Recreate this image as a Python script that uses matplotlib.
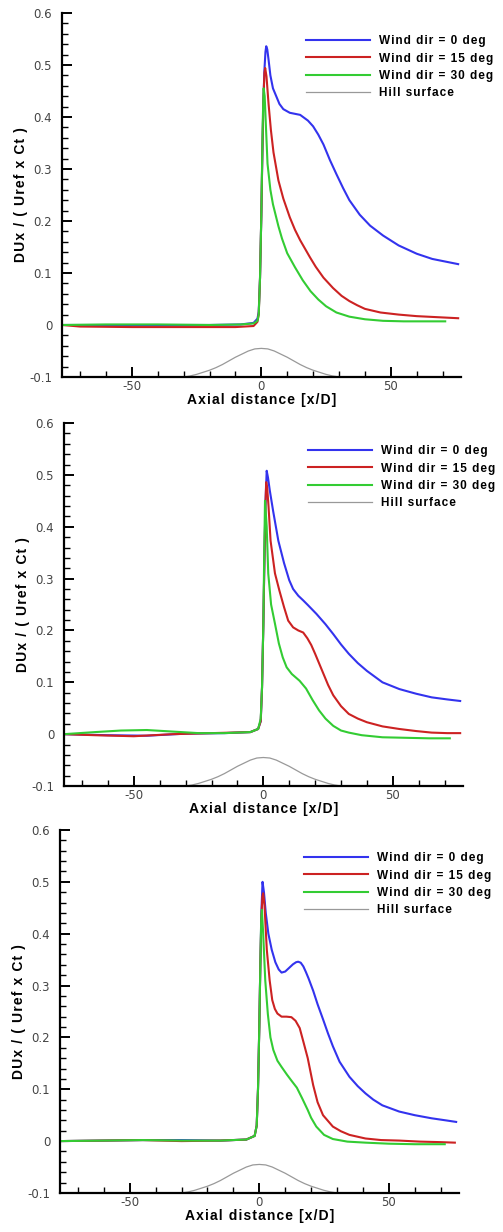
import matplotlib
matplotlib.use("Agg")
import matplotlib.pyplot as plt
from matplotlib.ticker import MultipleLocator

# Hill profile (same in all three panels)
hill_x = [-30, -27.5, -25, -22.5, -20, -17.5, -15, -12.5, -10, -7.5, -5, -2.5, 0,
          2.5, 5, 7.5, 10, 12.5, 15, 17.5, 20, 22.5, 25, 27.5, 30]
hill_y = [-0.100, -0.098, -0.095, -0.091, -0.087, -0.082, -0.076, -0.069, -0.062, -0.056,
          -0.050, -0.046, -0.045, -0.046, -0.050, -0.056, -0.062, -0.069, -0.076, -0.082,
          -0.087, -0.091, -0.095, -0.098, -0.100]

# Panel 1
blue1_x = [-77, -60, -40, -20, -8, -3, -1.5, -1, -0.5, 0, 0.4, 0.8, 1.2, 1.6, 1.9, 2.3, 2.8, 3.5,
           4.5, 6, 7, 8.5, 11, 15, 18, 20, 22, 24, 26.5, 29, 31.6, 34, 38, 42, 47, 53, 60, 66,
           72, 76]
blue1_y = [0.0, 0.0, 0.0, 0.0, 0.001, 0.004, 0.012, 0.025, 0.09, 0.21, 0.33, 0.43, 0.49, 0.525,
           0.536, 0.53, 0.51, 0.48, 0.455, 0.437, 0.425, 0.415, 0.408, 0.404, 0.393, 0.382,
           0.366, 0.347, 0.317, 0.29, 0.263, 0.24, 0.212, 0.191, 0.172, 0.153, 0.137, 0.127,
           0.121, 0.117]
red1_x = [-77, -70, -50, -30, -10, -3, -1.5, -1, -0.5, 0, 0.4, 0.8, 1.2, 1.5, 2.0, 2.8, 3.7, 4.7,
          6.6, 8.5, 11, 13, 15, 18.8, 21, 24, 27.7, 31, 34, 37, 40, 46, 53, 60, 68, 76]
red1_y = [0.0, -0.003, -0.004, -0.004, -0.004, -0.002, 0.006, 0.02, 0.09, 0.21, 0.33, 0.43,
          0.485, 0.494, 0.478, 0.425, 0.375, 0.332, 0.278, 0.243, 0.207, 0.183, 0.163, 0.13,
          0.112, 0.091, 0.071, 0.056, 0.046, 0.038, 0.031, 0.024, 0.020, 0.017, 0.015, 0.013]
green1_x = [-77, -60, -40, -20, -8, -3, -1.5, -1, -0.5, 0, 0.3, 0.6, 0.9, 1.3, 1.8, 2.4, 3.5, 4.5,
            5.4, 6.6, 8, 10, 13, 16, 19, 22, 25, 29, 34, 40, 47, 55, 63, 71]
green1_y = [0.0, 0.001, 0.001, 0.0, 0.001, 0.003, 0.008, 0.02, 0.09, 0.21, 0.31, 0.4, 0.455,
            0.44, 0.38, 0.31, 0.26, 0.232, 0.214, 0.19, 0.166, 0.138, 0.111, 0.086, 0.065, 0.049,
            0.036, 0.024, 0.016, 0.011, 0.008, 0.007, 0.007, 0.007]

# Panel 2
blue2_x = [-77, -60, -45, -30, -15, -5, -2, -1, -0.5, 0, 0.4, 0.8, 1.3, 1.8, 2.5, 3.8, 5.8, 8, 10,
           11.5, 13.5, 15.4, 17.2, 20.5, 24, 27, 30, 33, 36.5, 40, 46, 52.5, 59, 65, 71, 76]
blue2_y = [0.0, -0.002, -0.003, 0.001, 0.002, 0.004, 0.01, 0.025, 0.09, 0.21, 0.33, 0.44, 0.508,
           0.495, 0.47, 0.43, 0.373, 0.33, 0.297, 0.28, 0.267, 0.258, 0.249, 0.232, 0.212,
           0.193, 0.173, 0.155, 0.137, 0.122, 0.1, 0.087, 0.078, 0.071, 0.067, 0.064]
red2_x = [-77, -65, -50, -35, -20, -5, -2, -1, -0.5, 0, 0.4, 0.8, 1.1, 1.5, 2.0, 2.8, 4.5, 6.2, 8,
          9.6, 11.5, 13.5, 15.4, 17, 18.5, 20, 21.5, 23, 25, 27, 30, 33, 36.5, 40, 46, 52.5, 59,
          65, 71, 76]
red2_y = [0.0, -0.002, -0.004, 0.0, 0.002, 0.004, 0.01, 0.025, 0.09, 0.21, 0.33, 0.44, 0.486,
          0.475, 0.44, 0.373, 0.31, 0.277, 0.245, 0.219, 0.206, 0.2, 0.196, 0.185, 0.172,
          0.155, 0.137, 0.119, 0.095, 0.075, 0.054, 0.039, 0.03, 0.023, 0.015, 0.01, 0.006,
          0.003, 0.002, 0.002]
green2_x = [-77, -65, -55, -45, -35, -25, -15, -5, -2, -1, -0.5, 0, 0.3, 0.65, 1.3, 1.9, 3, 4.5, 6,
            7.5, 9, 11, 14, 16.5, 19, 21.5, 24, 27, 30, 33, 38, 46, 55, 64, 72]
green2_y = [0.0, 0.004, 0.007, 0.008, 0.005, 0.002, 0.002, 0.004, 0.01, 0.03, 0.09, 0.21, 0.33,
            0.45, 0.4, 0.31, 0.25, 0.213, 0.175, 0.148, 0.129, 0.116, 0.103, 0.088, 0.066,
            0.046, 0.03, 0.016, 0.007, 0.003, -0.002, -0.006, -0.007, -0.008, -0.008]

# Panel 3
blue3_x = [-77, -60, -45, -30, -15, -5, -1.8, -1, -0.5, 0, 0.4, 0.8, 1.25, 1.8, 2.5, 3.5, 4.8, 6.2,
           7.5, 8.6, 10, 11.5, 13, 14.2, 15, 16, 17, 18, 19, 20.8, 22.5, 24.6, 26.5, 28.4, 31,
           34.8, 38, 41, 44, 47.5, 54, 60, 66.5, 72, 76]
blue3_y = [0.0, 0.001, 0.002, 0.002, 0.001, 0.003, 0.01, 0.03, 0.1, 0.22, 0.34, 0.44, 0.50,
           0.48, 0.44, 0.4, 0.369, 0.345, 0.331, 0.325, 0.327, 0.334, 0.341, 0.345, 0.346,
           0.344, 0.337, 0.326, 0.314, 0.29, 0.264, 0.235, 0.208, 0.183, 0.153, 0.124, 0.106,
           0.092, 0.08, 0.069, 0.057, 0.05, 0.044, 0.04, 0.037]
red3_x = [-77, -60, -45, -30, -15, -5, -1.8, -1, -0.5, 0, 0.4, 0.8, 1.2, 1.5, 2.0, 2.9, 4, 5, 6, 7,
          8.6, 10.5, 12.4, 14, 15.6, 17, 18.7, 20.8, 22.5, 24.6, 28.4, 31.5, 34.8, 41, 47, 54,
          62, 70, 75.5]
red3_y = [0.0, 0.001, 0.002, 0.0, 0.001, 0.003, 0.01, 0.03, 0.1, 0.22, 0.34, 0.43, 0.472, 0.478,
          0.455, 0.369, 0.31, 0.272, 0.255, 0.246, 0.24, 0.24, 0.239, 0.232, 0.218, 0.192,
          0.16, 0.108, 0.075, 0.05, 0.028, 0.019, 0.012, 0.005, 0.002, 0.001, -0.001, -0.002,
          -0.003]
green3_x = [-77, -60, -45, -30, -15, -5, -1.8, -1, -0.5, 0, 0.4, 0.7, 1.0, 1.5, 2.3, 3.3, 4.3, 5.4,
            7, 8.6, 10.7, 12.5, 14.5, 16.5, 18.7, 20, 22, 25, 28.4, 34, 41, 50, 60, 71.6]
green3_y = [0.0, 0.001, 0.002, 0.001, 0.001, 0.003, 0.01, 0.03, 0.1, 0.22, 0.34, 0.42, 0.446,
            0.4, 0.31, 0.245, 0.2, 0.176, 0.155, 0.143, 0.128, 0.116, 0.103, 0.083, 0.06, 0.045,
            0.028, 0.012, 0.004, -0.001, -0.003, -0.005, -0.006, -0.006]

labels = ["Wind dir = 0 deg", "Wind dir = 15 deg", "Wind dir = 30 deg", "Hill surface"]
colors = ["#3333ee", "#cc2222", "#33cc33", "#999999"]

panels = [
    ([0.123, 0.694, 0.793, 0.2955], (blue1_x, blue1_y), (red1_x, red1_y), (green1_x, green1_y)),
    ([0.127, 0.362, 0.793, 0.2946], (blue2_x, blue2_y), (red2_x, red2_y), (green2_x, green2_y)),
    ([0.119, 0.0317, 0.793, 0.2946], (blue3_x, blue3_y), (red3_x, red3_y), (green3_x, green3_y)),
]


def tracked(s):
    # wide letter spacing like the original plotting package
    return "\u200a".join(s)


boldfam = ["Liberation Sans", "DejaVu Sans"]
tickfont = dict(family=["Liberation Sans Narrow", "DejaVu Sans"], size=8.5, color="#444444")

fig = plt.figure(figsize=(5.03, 12.32), dpi=100)
for rect, b, r, g in panels:
    ax = fig.add_axes(rect)
    ax.plot(b[0], b[1], color=colors[0], lw=1.5, label=tracked(labels[0]))
    ax.plot(r[0], r[1], color=colors[1], lw=1.5, label=tracked(labels[1]))
    ax.plot(g[0], g[1], color=colors[2], lw=1.5, label=tracked(labels[2]))
    ax.plot(hill_x, hill_y, color=colors[3], lw=0.9, label=tracked(labels[3]))

    ax.set_xlim(-77, 77)
    ax.set_ylim(-0.1, 0.6)
    ax.spines["top"].set_visible(False)
    ax.spines["right"].set_visible(False)
    ax.spines["left"].set_linewidth(1.6)
    ax.spines["bottom"].set_linewidth(1.6)

    ax.xaxis.set_major_locator(MultipleLocator(50))
    ax.xaxis.set_minor_locator(MultipleLocator(10))
    ax.yaxis.set_major_locator(MultipleLocator(0.1))
    ax.yaxis.set_minor_locator(MultipleLocator(0.02))
    ax.tick_params(which="major", direction="in", length=7, width=1.4)
    ax.tick_params(which="minor", direction="in", length=4, width=1.0)
    ax.tick_params(axis="y", which="major", pad=7)
    ax.tick_params(axis="x", which="major", pad=2)
    ax.set_yticks([-0.1, 0, 0.1, 0.2, 0.3, 0.4, 0.5, 0.6])
    ax.set_yticklabels(["-0.1", "0", "0.1", "0.2", "0.3", "0.4", "0.5", "0.6"], **tickfont)
    ax.set_xticks([-50, 0, 50])
    ax.set_xticklabels(["-50", "0", "50"], **tickfont)

    ax.set_xlabel(tracked("Axial distance [x/D]"), family=boldfam,
                  fontweight="bold", fontsize=10, labelpad=0.5)
    ax.set_ylabel(tracked("DUx / ( Uref x Ct )"), family=boldfam,
                  fontweight="bold", fontsize=10, labelpad=1)

    ax.legend(loc="upper left", bbox_to_anchor=(0.597, 0.955), frameon=False,
              borderpad=0, handlelength=5.4, handletextpad=0.8, labelspacing=0.45,
              prop=dict(family=boldfam, weight="bold", size=8.5))

fig.savefig("out.png", dpi=100)
